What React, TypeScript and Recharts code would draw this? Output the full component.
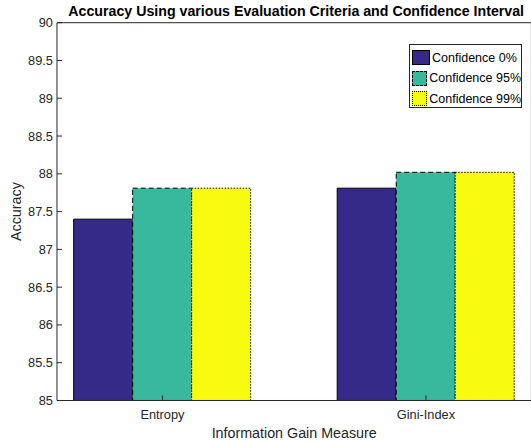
import React from "react";
import { Bar, BarChart, Legend, XAxis, YAxis } from "recharts";

const categories = ["Entropy", "Gini-Index"];
const conf0 = [87.4, 87.81];
const conf95 = [87.81, 88.02];
const conf99 = [87.81, 88.02];
const yTicks = [85, 85.5, 86, 86.5, 87, 87.5, 88, 88.5, 89, 89.5, 90];

const title = "Accuracy Using various Evaluation Criteria and Confidence Interval";

const series = [
  { key: "c0", name: "Confidence 0%", fill: "#352a87", dash: undefined, css: "solid" },
  { key: "c95", name: "Confidence 95%", fill: "#38b99e", dash: "5 3", css: "dashed" },
  { key: "c99", name: "Confidence 99%", fill: "#f9fb0e", dash: "1.5 1.5", css: "dotted" },
];

const data = categories.map((name, i) => ({
  name,
  x: i + 1,
  c0: conf0[i],
  c95: conf95[i],
  c99: conf99[i],
}));

const FONT = "'Liberation Sans', Arial, Helvetica, sans-serif";
const AXIS = "#262626";

function LegendBox() {
  return (
    <div
      style={{
        border: "1px solid #262626",
        background: "#fff",
        boxSizing: "border-box",
        width: 113,
        height: 64,
        paddingTop: 5,
        fontFamily: FONT,
        fontSize: 12.5,
        color: "#000",
      }}
    >
      {series.map((s) => (
        <div
          key={s.key}
          style={{ display: "flex", alignItems: "center", height: 20.5, paddingLeft: 2 }}
        >
          <div
            style={{
              width: 18,
              height: 15,
              boxSizing: "border-box",
              background: s.fill,
              border: `1px ${s.css} #000`,
              marginRight: 2,
              marginTop: -5,
            }}
          />
          <span style={{ marginTop: -5, whiteSpace: "nowrap" }}>{s.name}</span>
        </div>
      ))}
    </div>
  );
}

export default function App() {
  return (
    <div
      style={{
        position: "absolute",
        left: 0,
        top: 0,
        width: 531,
        height: 442,
        overflow: "hidden",
        background: "#fff",
        fontFamily: FONT,
      }}
    >
      <BarChart
        width={561.4}
        height={442}
        data={data}
        margin={{ top: 0, right: 0, bottom: 0, left: 0 }}
        barGap={0}
        barSize={59}
      >
        <XAxis
          xAxisId="bottom"
          dataKey="x"
          type="number"
          domain={[0.6, 2.4]}
          allowDataOverflow
          ticks={[1, 2]}
          tickFormatter={(v: number) => categories[v - 1] ?? ""}
          height={41.5}
          tickSize={-5}
          tickMargin={14}
          stroke={AXIS}
          tick={{ fill: AXIS, fontSize: 12.8, fontFamily: FONT }}
          label={{
            value: "Information Gain Measure",
            position: "insideBottom",
            offset: 4,
            fill: AXIS,
            fontSize: 14.3,
            fontFamily: FONT,
          }}
        />
        <XAxis
          xAxisId="top"
          orientation="top"
          dataKey="x"
          type="number"
          domain={[0.6, 2.4]}
          allowDataOverflow
          ticks={[1, 2]}
          height={22.7}
          tickSize={-5}
          tick={false}
          stroke={AXIS}
          label={{
            value: title,
            position: "insideTop",
            offset: 6,
            dx: 2,
            fill: "#000",
            fontSize: 14.2,
            fontWeight: "bold",
            fontFamily: FONT,
          }}
        />
        <YAxis
          yAxisId="left"
          domain={[85, 90]}
          allowDataOverflow
          ticks={yTicks}
          width={57}
          tickSize={-5}
          tickMargin={9}
          stroke={AXIS}
          tick={{ fill: AXIS, fontSize: 12.8, fontFamily: FONT }}
          label={{
            value: "Accuracy",
            angle: -90,
            position: "insideLeft",
            offset: 16,
            fill: AXIS,
            fontSize: 14.3,
            fontFamily: FONT,
            style: { textAnchor: "middle" },
          }}
        />
        <YAxis
          yAxisId="right"
          orientation="right"
          domain={[85, 90]}
          allowDataOverflow
          ticks={yTicks}
          width={30}
          tickSize={-5}
          tick={false}
          stroke={AXIS}
        />
        <Legend
          layout="vertical"
          align="center"
          verticalAlign="middle"
          wrapperStyle={{ left: 409, top: 44, width: 113, height: 64 }}
          content={() => <LegendBox />}
        />
        {series.map((s) => (
          <Bar
            key={s.key}
            dataKey={s.key}
            name={s.name}
            xAxisId="bottom"
            yAxisId="left"
            fill={s.fill}
            stroke="#000"
            strokeWidth={1}
            strokeDasharray={s.dash}
            isAnimationActive={false}
          />
        ))}
      </BarChart>
    </div>
  );
}
